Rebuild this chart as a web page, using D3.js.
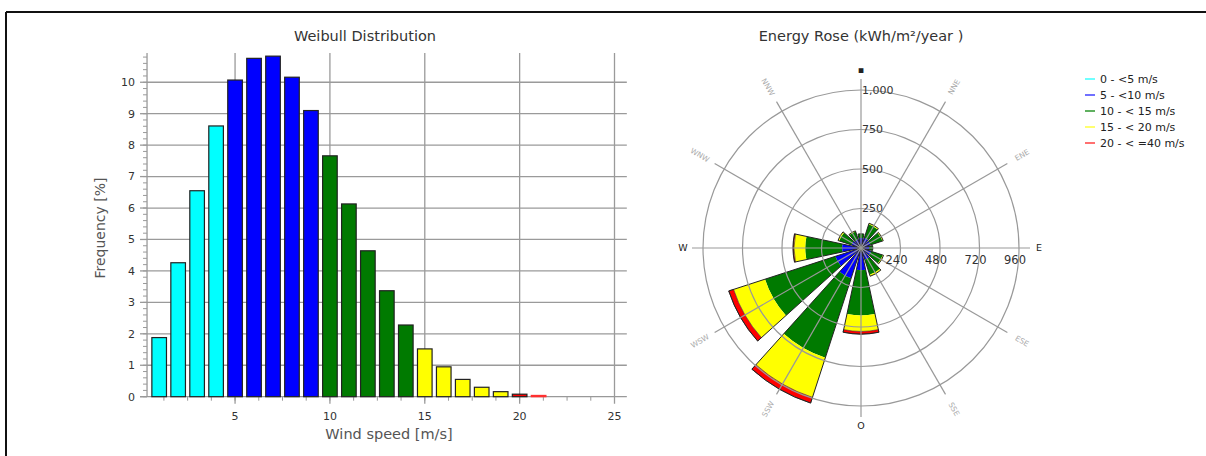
<!DOCTYPE html>
<html>
<head>
<meta charset="utf-8">
<style>
    body { margin: 0; background: #fff; }
    text { font-family: "DejaVu Sans", Verdana, sans-serif; }
</style>
</head>
<body>
<svg id="chart" width="1206" height="456"></svg>
<script src="https://cdn.jsdelivr.net/npm/d3@7"></script>
<script>
    // ---- data ----
    // Weibull histogram: wind speed bin (m/s) and frequency (%)
    let speeds = [1, 2, 3, 4, 5, 6, 7, 8, 9, 10, 11, 12, 13, 14, 15, 16, 17, 18, 19, 20, 21]
    let freq = [1.88, 4.26, 6.55, 8.61, 10.07, 10.76, 10.83, 10.16, 9.10, 7.66, 6.13,
                4.64, 3.37, 2.28, 1.52, 0.95, 0.55, 0.30, 0.16, 0.08, 0.04]
    let yTicks = [0, 1, 2, 3, 4, 5, 6, 7, 8, 9, 10]
    let xTicks = [5, 10, 15, 20, 25]

    // Energy rose: directions and stacked energy per speed class (kWh/m²/year)
    let directions = ["N", "NNE", "ENE", "E", "ESE", "SSE", "S", "SSW", "WSW", "W", "WNW", "NNW"]
    let dirAngles = [0, 30, 60, 90, 120, 150, 180, 210, 240, 270, 300, 330]
    let cls0_5 = [8, 8, 8, 6, 8, 8, 15, 20, 20, 15, 8, 8]
    let cls5_10 = [55, 60, 55, 45, 60, 70, 125, 182, 151, 105, 55, 50]
    let cls10_15 = [27, 90, 80, 24, 77, 100, 287, 529, 468, 233, 82, 52]
    let cls15_20 = [0, 7, 5, 0, 5, 10, 101, 263, 209, 71, 8, 4]
    let cls20_40 = [0, 0, 0, 0, 0, 0, 17, 38, 32, 6, 0, 0]
    let ringTicks = [250, 500, 750, 1000]
    let eastTicks = [240, 480, 720, 960]

    let classNames = ["0 - <5 m/s", "5 - <10 m/s", "10 - < 15 m/s", "15 - < 20 m/s", "20 - < =40 m/s"]
    let classColors = ["#00ffff", "#0000ff", "#007a00", "#ffff00", "#ff0000"]
    let legendColors = ["#70ffff", "#7070ff", "#60b060", "#ffff70", "#ff7070"]

    let svg = d3.select("#chart")

    // frame lines (top and left)
    svg.append("line").attr("x1", 6).attr("x2", 1206).attr("y1", 12).attr("y2", 12)
        .attr("stroke", "#111").attr("stroke-width", 2)
    svg.append("line").attr("x1", 6).attr("x2", 6).attr("y1", 12).attr("y2", 456)
        .attr("stroke", "#111").attr("stroke-width", 2)

    // ================= Weibull histogram =================
    let x = d3.scaleLinear().domain([0, 25]).range([140.2, 614.5])
    let y = d3.scaleLinear().domain([0, 10.93]).range([396.7, 53])
    let xMin = 0.36, xMax = 25.65
    let hist = svg.append("g")

    // grid
    hist.append("g").selectAll("line").data(yTicks.filter(d => d > 0)).join("line")
        .attr("x1", x(xMin)).attr("x2", x(xMax))
        .attr("y1", d => y(d)).attr("y2", d => y(d))
        .attr("stroke", "#9a9a9a").attr("stroke-width", 1.3)
    hist.append("g").selectAll("line").data(xTicks).join("line")
        .attr("x1", d => x(d)).attr("x2", d => x(d))
        .attr("y1", y(10.93)).attr("y2", y(0) + 7)
        .attr("stroke", "#9a9a9a").attr("stroke-width", 1.3)

    // minor ticks
    hist.append("g").selectAll("line").data(d3.range(0, 10.9, 0.2)).join("line")
        .attr("x1", x(xMin) - 4).attr("x2", x(xMin))
        .attr("y1", d => y(d)).attr("y2", d => y(d))
        .attr("stroke", "#999").attr("stroke-width", 1)
    hist.append("g").selectAll("line").data(d3.range(1.25, 25.5, 1.25)).join("line")
        .attr("x1", d => x(d)).attr("x2", d => x(d))
        .attr("y1", y(0)).attr("y2", y(0) + 4)
        .attr("stroke", "#999").attr("stroke-width", 1)

    // axes lines
    hist.append("line").attr("x1", x(xMin)).attr("x2", x(xMin)).attr("y1", y(10.93)).attr("y2", y(0))
        .attr("stroke", "#999").attr("stroke-width", 1.3)
    hist.append("line").attr("x1", x(xMin) - 7).attr("x2", x(xMax)).attr("y1", y(0)).attr("y2", y(0))
        .attr("stroke", "#999").attr("stroke-width", 1.3)
    hist.append("g").selectAll("line").data(yTicks).join("line")
        .attr("x1", x(xMin) - 7).attr("x2", x(xMin))
        .attr("y1", d => y(d)).attr("y2", d => y(d))
        .attr("stroke", "#999").attr("stroke-width", 1.3)

    // bars
    let barW = x(0.77) - x(0)
    hist.append("g").selectAll("rect").data(speeds).join("rect")
        .attr("x", d => x(d) - barW / 2)
        .attr("width", barW)
        .attr("y", (d, i) => y(freq[i]))
        .attr("height", (d, i) => y(0) - y(freq[i]))
        .attr("fill", d => classColors[Math.floor(d / 5)])
        .attr("stroke", d => d > 20 ? "#ff3030" : "#222")
        .attr("stroke-width", 1.2)

    // tick labels
    hist.append("g").selectAll("text").data(yTicks).join("text")
        .attr("x", x(xMin) - 12).attr("y", d => y(d))
        .attr("dy", "0.35em").attr("text-anchor", "end")
        .attr("font-size", 11).attr("fill", "#333")
        .text(d => d)
    hist.append("g").selectAll("text").data(xTicks).join("text")
        .attr("x", d => x(d)).attr("y", y(0) + 19)
        .attr("dy", "0.35em").attr("text-anchor", "middle")
        .attr("font-size", 11).attr("fill", "#333")
        .text(d => d)

    hist.append("text").attr("x", 365).attr("y", 41).attr("text-anchor", "middle")
        .attr("font-size", 14.5).attr("fill", "#333").text("Weibull Distribution")
    hist.append("text").attr("x", 389).attr("y", 439).attr("text-anchor", "middle")
        .attr("font-size", 14.5).attr("fill", "#555").text("Wind speed [m/s]")
    hist.append("text").attr("transform", "translate(105,228) rotate(-90)")
        .attr("text-anchor", "middle")
        .attr("font-size", 14).attr("fill", "#555").text("Frequency [%]")

    // ================= Energy rose =================
    let cx = 861, cy = 248
    let r = d3.scaleLinear().domain([0, 1000]).range([0, 158])
    let rose = svg.append("g").attr("transform", `translate(${cx},${cy})`)
    let rad = a => a * Math.PI / 180

    // stack the classes
    let classes = [cls0_5, cls5_10, cls10_15, cls15_20, cls20_40]
    let segs = []
    directions.forEach((dir, i) => {
        let base = 0
        classes.forEach((c, k) => {
            if (c[i] > 0) segs.push({ a: dirAngles[i], k: k, r0: base, r1: base + c[i] })
            base += c[i]
        })
    })
    let half = 12
    let arc = d3.arc()
        .innerRadius(d => r(d.r0)).outerRadius(d => r(d.r1))
        .startAngle(d => rad(d.a - half)).endAngle(d => rad(d.a + half))
    rose.append("g").selectAll("path").data(segs).join("path")
        .attr("d", arc)
        .attr("fill", d => classColors[d.k])
        .attr("stroke", d => d.k == 4 ? "#333" : "none").attr("stroke-width", 0.6)
    // sector outlines
    let totals = directions.map((d, i) => ({ a: dirAngles[i], r0: 0, r1: d3.sum(classes, c => c[i]) }))
    rose.append("g").selectAll("path").data(totals).join("path")
        .attr("d", arc)
        .attr("fill", "none").attr("stroke", "#222").attr("stroke-width", 1)

    // grid on top
    rose.append("g").selectAll("circle").data(ringTicks).join("circle")
        .attr("r", d => r(d))
        .attr("fill", "none").attr("stroke", "#999").attr("stroke-width", 1.2)
    rose.append("g").selectAll("line").data(dirAngles).join("line")
        .attr("x1", 0).attr("y1", 0)
        .attr("x2", d => 169 * Math.sin(rad(d)))
        .attr("y2", d => -169 * Math.cos(rad(d)))
        .attr("stroke", "#999").attr("stroke-width", 1.2)

    // ring labels
    rose.append("g").selectAll("text").data(ringTicks).join("text")
        .attr("x", 1).attr("y", d => -r(d)).attr("dy", "0.35em")
        .attr("font-size", 11).attr("fill", "#333")
        .text(d => d3.format(",")(d))
    rose.append("g").selectAll("text").data(eastTicks).join("text")
        .attr("x", (d, i) => r(ringTicks[i]) - 4).attr("y", 12).attr("dy", "0.35em")
        .attr("text-anchor", "middle")
        .attr("font-size", 11.5).attr("fill", "#333")
        .text(d => d)

    // direction labels
    let main = { "N": "▪", "E": "E", "S": "O", "W": "W" }
    rose.append("g").selectAll("text").data(directions).join("text")
        .attr("transform", (d, i) => {
            let a = dirAngles[i]
            let rr = (d in main) ? 178 : 186
            let px = rr * Math.sin(rad(a)), py = -rr * Math.cos(rad(a))
            if (d in main) return `translate(${px},${py})`
            let rot = a < 180 ? a - 90 : a - 270
            return `translate(${px},${py}) rotate(${rot})`
        })
        .attr("text-anchor", "middle").attr("dy", "0.35em")
        .attr("font-size", d => (d in main) ? 9.5 : 7.5)
        .attr("fill", d => (d in main) ? "#222" : "#aaa")
        .text(d => (d in main) ? main[d] : d)

    svg.append("text").attr("x", 861).attr("y", 41).attr("text-anchor", "middle")
        .attr("font-size", 14.5).attr("fill", "#333").text("Energy Rose (kWh/m²/year )")

    // legend
    let legend = svg.append("g").attr("transform", "translate(1085,79)")
    let item = legend.selectAll("g").data(classNames).join("g")
        .attr("transform", (d, i) => `translate(0,${i * 16})`)
    item.append("line").attr("x1", 0).attr("x2", 10).attr("y1", 0).attr("y2", 0)
        .attr("stroke", (d, i) => legendColors[i]).attr("stroke-width", 2)
    item.append("text").attr("x", 15).attr("dy", "0.35em")
        .attr("font-size", 11).attr("fill", "#222").text(d => d)
</script>
</body>
</html>
